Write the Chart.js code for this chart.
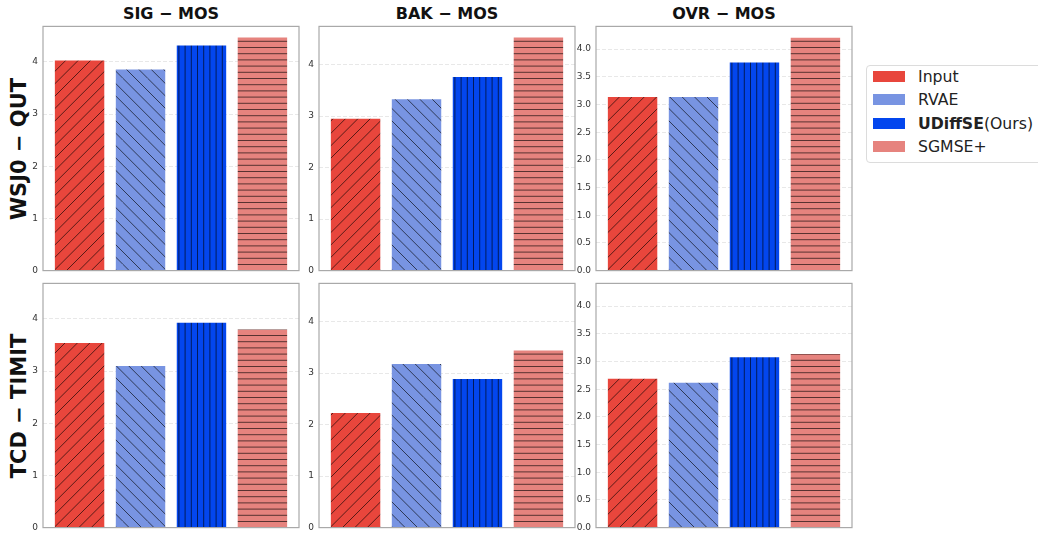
<!DOCTYPE html>
<html>
<head>
<meta charset="utf-8">
<script src="https://cdn.jsdelivr.net/npm/chart.js@4.4.1/dist/chart.umd.min.js"></script>
<style>
  body { margin: 0; width: 1038px; height: 533px; background: #fff; position: relative; overflow: hidden; font-family: "DejaVu Sans", sans-serif; }
  canvas { position: absolute; }
  .col-title { position: absolute; top: 4px; width: 256px; text-align: center; font-weight: bold; font-size: 16px; color: #111; }
  .row-title { position: absolute; width: 300px; text-align: center; font-weight: bold; font-size: 21px; color: #111;
               transform: translate(-50%, -50%) rotate(-90deg); white-space: nowrap; }
  #legend { position: absolute; left: 866px; top: 65px; width: 200px; height: 96px; border: 1px solid #dcdcdc; border-radius: 4px; }
  .item { position: absolute; left: 6px; height: 20px; font-size: 15.7px; color: #222; white-space: nowrap; }
  .item span.sw { position: absolute; left: 0; top: 4px; width: 32px; height: 11px; }
  .item span.lab { position: absolute; left: 45px; top: 0; line-height: 20px; }
</style>
</head>
<body>

<script>
// methods (bars in every panel)
const methods = ["Input", "RVAE", "UDiffSE", "SGMSE+"];
const methodColors = ["#E8463C", "#7894E2", "#0346EE", "#E6837E"];
const hatches = ["/", "\\", "|", "-"];

// panel headers
const metrics = ["SIG \u2212 MOS", "BAK \u2212 MOS", "OVR \u2212 MOS"];
const testSets = ["WSJ0 \u2212 QUT", "TCD \u2212 TIMIT"];

// WSJ0 - QUT
const wsjSig = [4.02, 3.85, 4.31, 4.46];
const wsjBak = [2.94, 3.32, 3.75, 4.52];
const wsjOvr = [3.13, 3.13, 3.75, 4.20];
// TCD - TIMIT
const tcdSig = [3.53, 3.09, 3.92, 3.79];
const tcdBak = [2.22, 3.17, 2.88, 3.43];
const tcdOvr = [2.68, 2.61, 3.07, 3.13];

// y axis per metric column
const yMax = [4.68, 4.74, 4.41];
const yStep = [1, 1, 0.5];

const values = [[wsjSig, wsjBak, wsjOvr], [tcdSig, tcdBak, tcdOvr]];

// layout of the six panels
const panelLeft = [43, 319, 596];
const panelTop = [24, 281];
const panelW = 256;
const panelH = 249;
const barW = 0.8 * panelW / 4.2;

function makeHatch(color, kind) {
  const T = 62;
  const c = document.createElement("canvas");
  c.width = T; c.height = T;
  const g = c.getContext("2d");
  g.fillStyle = color;
  g.fillRect(0, 0, T, T);
  g.strokeStyle = "rgba(0,0,0,0.62)";
  g.lineWidth = 1;
  g.beginPath();
  if (kind === "/") {
    for (let k = -T; k <= T; k += 12.4) { g.moveTo(k, T); g.lineTo(k + T, 0); }
  } else if (kind === "\\") {
    for (let k = -T; k <= T; k += 12.4) { g.moveTo(k, 0); g.lineTo(k + T, T); }
  } else if (kind === "|") {
    for (let i = 0; i < 10; i++) { const x = 0.5 + i * 6.2; g.moveTo(x, 0); g.lineTo(x, T); }
  } else {
    for (let i = 0; i < 10; i++) { const y = 0.5 + i * 6.2; g.moveTo(0, y); g.lineTo(T, y); }
  }
  g.stroke();
  return g.createPattern(c, "repeat");
}

const framePlugin = {
  id: "frame",
  afterDraw(chart) {
    const a = chart.chartArea, ctx = chart.ctx;
    ctx.save();
    ctx.strokeStyle = "#a9a9a9";
    ctx.lineWidth = 1.2;
    ctx.strokeRect(a.left, a.top, a.right - a.left, a.bottom - a.top);
    ctx.restore();
  }
};

// column titles
metrics.forEach((m, j) => {
  const d = document.createElement("div");
  d.className = "col-title";
  d.style.left = panelLeft[j] + "px";
  d.textContent = m;
  document.body.appendChild(d);
});

// row titles
testSets.forEach((t, i) => {
  const d = document.createElement("div");
  d.className = "row-title";
  d.style.left = "19px";
  d.style.top = (panelTop[i] + panelH / 2) + "px";
  d.textContent = t;
  document.body.appendChild(d);
});

// legend
const legend = document.createElement("div");
legend.id = "legend";
methods.forEach((m, k) => {
  const it = document.createElement("div");
  it.className = "item";
  it.style.top = (1 + k * 23.3) + "px";
  const sw = document.createElement("span");
  sw.className = "sw";
  sw.style.background = methodColors[k];
  const lab = document.createElement("span");
  lab.className = "lab";
  if (m === "UDiffSE") lab.innerHTML = "<b>UDiffSE</b>(Ours)";
  else lab.textContent = m;
  it.appendChild(sw); it.appendChild(lab);
  legend.appendChild(it);
});
document.body.appendChild(legend);

const patterns = methods.map((m, k) => makeHatch(methodColors[k], hatches[k]));

for (let i = 0; i < 2; i++) {
  for (let j = 0; j < 3; j++) {
    const cv = document.createElement("canvas");
    cv.width = panelW + 34;
    cv.height = panelH + 16;
    cv.style.left = (panelLeft[j] - 32) + "px";
    cv.style.top = (panelTop[i] - 8) + "px";
    document.body.appendChild(cv);

    const vals = values[i][j];
    new Chart(cv.getContext("2d"), {
      type: "bar",
      data: {
        datasets: [{
          label: metrics[j],
          data: vals.map((v, k) => ({ x: k, y: v })),
          backgroundColor: patterns,
          borderWidth: 0,
          barThickness: barW
        }]
      },
      options: {
        responsive: false,
        animation: false,
        layout: { padding: { top: 8, bottom: 8, right: 2, left: 0 } },
        plugins: { legend: { display: false }, tooltip: { enabled: false } },
        scales: {
          x: { type: "linear", min: -0.6, max: 3.6, offset: false, display: false },
          y: {
            min: 0,
            max: yMax[j],
            afterFit(s) { s.width = 32; },
            grid: { color: "rgba(0,0,0,0.09)", lineWidth: 1, drawTicks: false },
            border: { display: false, dash: [4, 2] },
            ticks: {
              stepSize: yStep[j],
              includeBounds: false,
              padding: 5,
              color: "#333",
              font: { family: "DejaVu Sans", size: 9 },
              callback: v => yStep[j] < 1 ? v.toFixed(1) : String(v)
            }
          }
        }
      },
      plugins: [framePlugin]
    });
  }
}
</script>
</body>
</html>
